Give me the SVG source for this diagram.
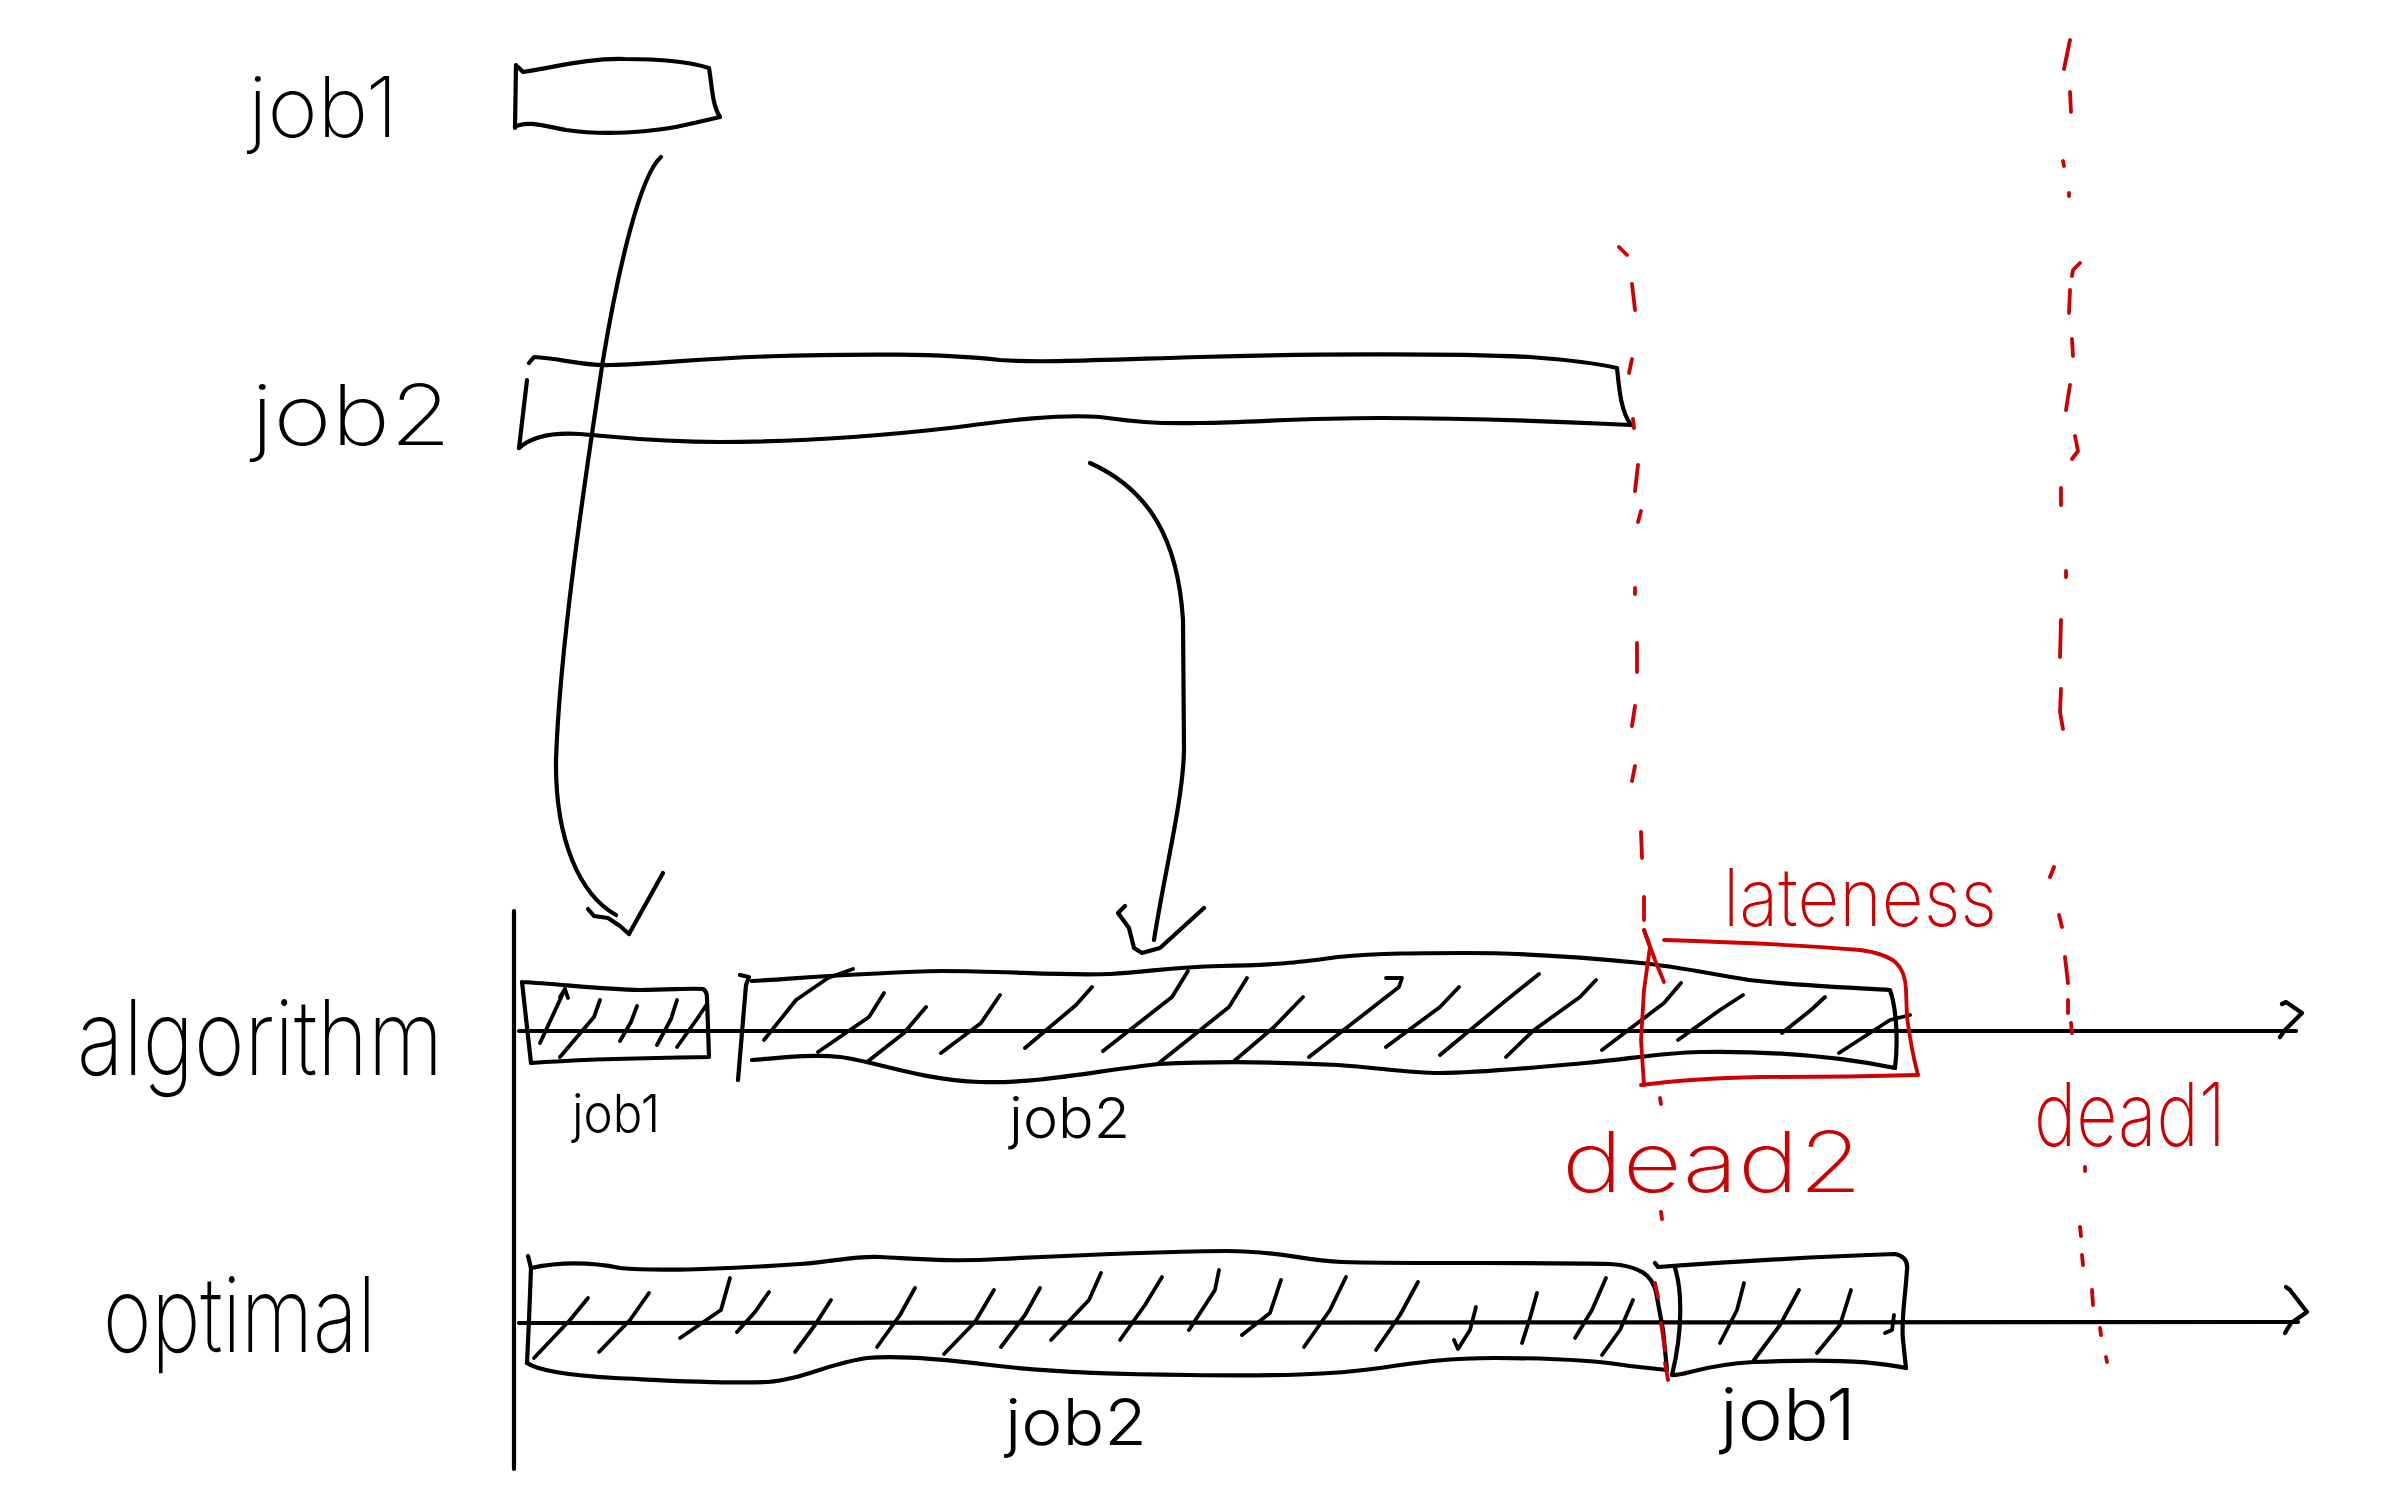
<svg xmlns="http://www.w3.org/2000/svg" width="2386" height="1491" viewBox="0 0 2386 1491">
<style>
.k{fill:none;stroke:#000;stroke-width:4.2;stroke-linecap:round;stroke-linejoin:round}
.h{fill:none;stroke:#000;stroke-width:3.8;stroke-linecap:round;stroke-linejoin:round}
.r{fill:none;stroke:#cc0000;stroke-width:3.8;stroke-linecap:round;stroke-linejoin:round}
.t{font-family:Inter,"Liberation Sans",sans-serif;font-weight:200;fill:#000}
.ts{font-family:Inter,"Liberation Sans",sans-serif;font-weight:300;fill:#000}
.rt{font-family:Inter,"Liberation Sans",sans-serif;font-weight:200;fill:#cc0000}
</style>
<rect width="2386" height="1491" fill="#fff"/>

<g id="labels">
<text class="t" x="248" y="137" font-size="84" textLength="150" lengthAdjust="spacingAndGlyphs">job1</text>
<text class="t" x="251" y="445" font-size="84" textLength="200" lengthAdjust="spacingAndGlyphs">job2</text>
<text class="t" x="77" y="1075" font-size="104" textLength="366" lengthAdjust="spacingAndGlyphs">algorithm</text>
<text class="t" x="103" y="1352" font-size="104" textLength="273" lengthAdjust="spacingAndGlyphs">optimal</text>
</g>

<g id="job1-input">
<path class="k" d="M516,65 L515,128"/>
<path class="k" d="M518,67 L523,72 C560,66 590,58 625,59 C660,59 690,62 709,68 C712,85 712,105 720,117"/>
<path class="k" d="M515,127 C525,120 545,126 566,130 C600,135 650,134 694,123 L720,117"/>
</g>

<g id="job2-input">
<path class="k" d="M527,380 L519,448"/>
<path class="k" d="M529,363 L534,357 C560,358 580,366 610,365 C660,364 700,358 780,356 C860,354 940,353 1000,360 C1040,363 1100,360 1200,357 C1300,354 1450,353 1530,357 C1570,360 1600,364 1617,368 C1619,385 1620,410 1631,425"/>
<path class="k" d="M519,448 C530,438 550,432 580,434 C620,437 650,442 720,442 C800,442 870,437 950,428 C1010,420 1060,414 1100,417 C1130,421 1150,424 1200,423 C1260,422 1300,418 1380,418 C1450,418 1550,421 1631,425"/>
</g>

<g id="axes">
<line class="k" x1="514" y1="911" x2="514" y2="1469"/>
<line class="k" x1="519" y1="1031" x2="2296" y2="1031"/>
<polyline class="k" points="2282,1004 2286,1002 2302,1013 2285,1030 2280,1037"/>
<line class="k" x1="519" y1="1323" x2="2298" y2="1322"/>
<polyline class="k" points="2286,1287 2290,1290 2307,1312 2291,1323 2285,1333"/>
</g>

<g id="algo-job1">
<path class="k" d="M522,982 C560,984 600,989 640,990 C670,990 690,988 703,989 C707,991 707,995 707,998 L709,1057 C660,1058 600,1058 531,1063 L522,982"/>
<polyline class="h" points="565,989 540,1043"/>
<polyline class="h" points="560,997 565,989 568,998"/>
<polyline class="h" points="600,1000 594,1017 560,1057"/>
<polyline class="h" points="637,1006 631,1022 620,1041"/>
<polyline class="h" points="677,1000 671,1019 657,1045"/>
<polyline class="h" points="707,1004 697,1019 677,1047"/>
<text class="ts" x="572" y="1132" font-size="52" textLength="88" lengthAdjust="spacingAndGlyphs">job1</text>
</g>

<g id="algo-job2">
<path class="k" d="M740,975 L749,977 L746,985 L738,1080"/>
<path class="k" d="M752,981 C800,978 880,972 942,971 C1010,971 1060,976 1110,974 C1150,972 1170,967 1220,966 C1280,965 1300,962 1338,957 C1380,953 1420,953 1465,953 C1530,953 1590,958 1641,963 C1680,967 1700,972 1749,980 C1800,986 1860,988 1890,990 C1897,1010 1898,1045 1895,1068"/>
<path class="k" d="M752,1060 C780,1058 810,1054 840,1057 C870,1060 920,1080 980,1082 C1040,1084 1100,1070 1159,1064 C1220,1061 1280,1062 1338,1065 C1380,1068 1410,1073 1440,1073 C1480,1073 1530,1068 1585,1063 C1630,1059 1660,1053 1700,1052 C1760,1051 1830,1055 1895,1068"/>
<polyline class="h" points="853,969 828,978 796,1000 764,1040"/>
<polyline class="h" points="884,993 869,1017 818,1052"/>
<polyline class="h" points="926,1007 904,1033 867,1062"/>
<polyline class="h" points="1000,995 981,1023 941,1053"/>
<polyline class="h" points="1092,987 1076,1005 1025,1048"/>
<polyline class="h" points="1188,971 1172,997 1103,1051"/>
<polyline class="h" points="1247,978 1229,1007 1159,1063"/>
<polyline class="h" points="1303,997 1274,1027 1233,1062"/>
<polyline class="h" points="1386,978 1402,978 1399,987 1309,1057"/>
<polyline class="h" points="1459,987 1440,1007 1386,1047"/>
<polyline class="h" points="1539,974 1504,1002 1440,1055"/>
<polyline class="h" points="1596,980 1580,997 1534,1030 1506,1057"/>
<polyline class="h" points="1681,983 1664,1003 1602,1050"/>
<polyline class="h" points="1743,995 1720,1010 1678,1040"/>
<polyline class="h" points="1825,997 1811,1010 1782,1033"/>
<polyline class="h" points="1910,1015 1890,1020 1839,1053"/>
<text class="ts" x="1009" y="1138" font-size="56" textLength="121" lengthAdjust="spacingAndGlyphs">job2</text>
</g>

<g id="opt-job2">
<path class="k" d="M528,1256 L531,1268 L529,1320 L527,1363"/>
<path class="k" d="M531,1268 C560,1262 590,1262 620,1268 C660,1272 740,1268 800,1264 C840,1261 850,1256 880,1257 C920,1259 950,1262 1000,1259 C1080,1255 1150,1252 1227,1251 C1280,1251 1300,1260 1342,1262 C1400,1264 1550,1262 1610,1264 C1640,1266 1652,1275 1656,1292 L1663,1330 L1667,1370"/>
<path class="k" d="M527,1363 C540,1372 580,1376 615,1378 C660,1380 720,1384 768,1382 C800,1380 830,1363 867,1358 C900,1355 950,1360 990,1365 C1030,1370 1080,1374 1189,1375 C1280,1376 1330,1375 1380,1368 C1420,1362 1450,1358 1495,1358 C1550,1358 1600,1361 1630,1366 L1667,1370"/>
<polyline class="h" points="588,1298 570,1320 534,1358"/>
<polyline class="h" points="649,1293 630,1320 599,1352"/>
<polyline class="h" points="730,1278 721,1310 680,1338"/>
<polyline class="h" points="769,1292 755,1312 737,1332"/>
<polyline class="h" points="831,1300 815,1325 795,1352"/>
<polyline class="h" points="915,1288 900,1315 877,1347"/>
<polyline class="h" points="994,1290 975,1322 944,1354"/>
<polyline class="h" points="1040,1288 1025,1315 1001,1347"/>
<polyline class="h" points="1101,1273 1089,1300 1051,1340"/>
<polyline class="h" points="1162,1277 1145,1305 1120,1340"/>
<polyline class="h" points="1219,1270 1215,1290 1189,1330"/>
<polyline class="h" points="1281,1280 1270,1313 1242,1335"/>
<polyline class="h" points="1346,1277 1330,1310 1304,1347"/>
<polyline class="h" points="1418,1282 1400,1315 1376,1350"/>
<polyline class="h" points="1476,1307 1470,1330 1458,1349 1454,1340"/>
<polyline class="h" points="1537,1293 1530,1318 1522,1343"/>
<polyline class="h" points="1606,1278 1592,1310 1575,1338"/>
<polyline class="h" points="1633,1300 1620,1330 1602,1355"/>
<text class="ts" x="1005" y="1445" font-size="64" textLength="142" lengthAdjust="spacingAndGlyphs">job2</text>
</g>

<g id="opt-job1">
<path class="k" d="M1655,1263 L1658,1267 C1700,1264 1800,1257 1895,1254 C1905,1256 1908,1262 1907,1270 C1905,1300 1901,1320 1903,1340 L1906,1368"/>
<path class="k" d="M1675,1268 C1682,1290 1683,1330 1672,1375 C1685,1376 1700,1365 1754,1362 C1820,1359 1870,1360 1906,1368"/>
<polyline class="h" points="1744,1283 1737,1310 1720,1343"/>
<polyline class="h" points="1799,1290 1780,1325 1754,1360"/>
<polyline class="h" points="1851,1290 1840,1325 1817,1353"/>
<polyline class="h" points="1894,1315 1892,1330 1885,1333"/>
<text class="ts" x="1720" y="1440" font-size="72" textLength="136" lengthAdjust="spacingAndGlyphs">job1</text>
</g>

<g id="connectors">
<path class="k" d="M661,157 C640,175 618,270 603,360 C588,460 560,640 556,760 C555,840 580,895 616,915"/>
<polyline class="k" points="588,909 594,916 608,918 620,926 629,934"/>
<polyline class="k" points="663,873 629,934"/>
<path class="k" d="M1090,463 C1150,490 1178,540 1183,620 L1184,750 C1183,800 1165,870 1154,940"/>
<polyline class="k" points="1125,906 1118,913 1129,928 1134,948 1142,953 1160,948 1204,908"/>
</g>

<g id="deadline2">
<path class="r" d="M1619,247 L1627,255 M1632,284 L1635,310 M1632,359 L1629,373 M1633,419 L1634,428 M1638,465 L1635,491 M1641,511 L1638,522 M1635,588 L1635,594 M1637,643 L1637,672 M1635,706 L1632,726 M1635,766 L1632,781 M1641,832 L1642,858 M1644,897 L1644,920 M1660,1098 L1661,1104 M1661,1212 L1662,1219 M1655,1283 L1658,1297 M1661,1323 L1665,1350 M1665,1363 L1668,1380"/>
<text class="rt" x="1562" y="1192" font-size="84" textLength="300" lengthAdjust="spacingAndGlyphs">dead2</text>
</g>

<g id="deadline1">
<path class="r" d="M2070,40 L2064,69 M2070,92 L2071,112 M2063,161 L2064,166 M2069,193 L2069,196 M2080,263 L2073,270 L2072,276 M2070,290 L2069,313 M2072,339 L2073,356 M2070,385 L2066,410 M2075,436 L2078,451 L2072,459 M2061,488 L2061,505 M2066,571 L2066,577 M2061,620 L2060,657 M2061,689 L2060,712 L2063,729 M2054,867 L2050,877 M2059,915 L2062,927 M2065,957 L2068,983 M2068,1000 L2068,1013 M2071,1023 L2072,1033 M2085,1167 L2085,1171 M2080,1227 L2081,1236 M2082,1255 L2083,1265 M2092,1290 L2093,1305 M2100,1328 L2101,1335 M2106,1357 L2107,1362"/>
<text class="rt" x="2034" y="1146" font-size="88" textLength="192" lengthAdjust="spacingAndGlyphs">dead1</text>
</g>

<g id="lateness">
<polyline class="r" points="1644,1085 1641,1040 1644,990 1650,947 1644,930"/>
<polyline class="r" points="1644,930 1655,960 1664,982"/>
<path class="r" d="M1664,940 C1730,942 1800,945 1860,950 C1895,955 1905,965 1906,990 L1907,1017 C1910,1040 1914,1060 1918,1075"/>
<path class="r" d="M1641,1085 C1680,1080 1715,1078 1760,1077 C1820,1077 1880,1076 1918,1075"/>
<text class="rt" x="1723" y="926" font-size="80" textLength="274" lengthAdjust="spacingAndGlyphs">lateness</text>
</g>
</svg>
